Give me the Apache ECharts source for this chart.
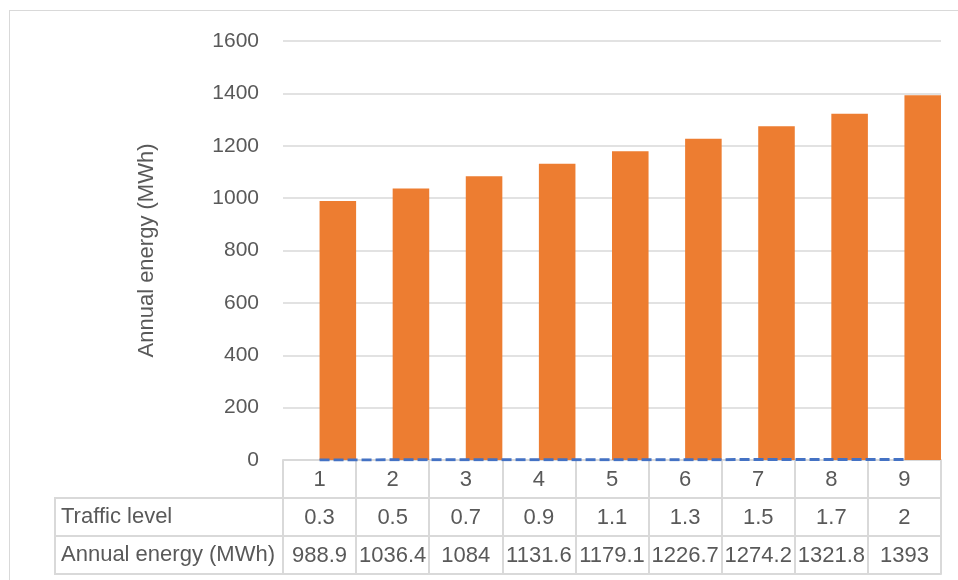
<!DOCTYPE html>
<html>
<head>
<meta charset="utf-8">
<script src="https://cdn.jsdelivr.net/npm/echarts@6/dist/echarts.min.js"></script>
<style>
html,body{margin:0;padding:0;background:#fff;overflow:hidden;}
#frame{position:absolute;left:9px;top:10px;width:1200px;height:900px;border:1px solid #D9D9D9;box-sizing:border-box;}
#chart{position:absolute;left:0;top:0;width:958px;height:580px;}
</style>
</head>
<body>
<div id="frame"></div>
<div id="chart"></div>
<script>
const categories = ['1','2','3','4','5','6','7','8','9'];
const trafficLevel = [0.3, 0.5, 0.7, 0.9, 1.1, 1.3, 1.5, 1.7, 2];
const annualEnergy = [988.9, 1036.4, 1084, 1131.6, 1179.1, 1226.7, 1274.2, 1321.8, 1393];
const yTicks = {min: 0, max: 1600, interval: 200};

const GRAY = '#D9D9D9';
const TXT = '#595959';
const FONT = 'Liberation Sans';
const ROW = 38;

function tableAxis(idx, data, name) {
  return {
    type: 'category',
    gridIndex: 0,
    position: 'bottom',
    offset: idx * ROW,
    data: data,
    boundaryGap: true,
    axisLine: {show: true, lineStyle: {color: GRAY, width: 2}},
    axisTick: {show: data !== null, length: ROW, interval: 0, lineStyle: {color: GRAY, width: 2}},
    axisLabel: {show: data !== null, interval: 0, margin: 9, fontFamily: FONT, fontSize: 22, color: TXT},
    splitLine: {show: false},
    name: name ? '{a|' + name + '}' : '',
    nameLocation: 'start',
    nameGap: 228,
    nameMoveOverlap: false,
    nameTextStyle: name ? {
      align: 'left', verticalAlign: 'top',
      fontFamily: FONT, fontSize: 22, color: TXT,
      padding: [8, 0, 8, 6],
      borderColor: GRAY, borderWidth: 2,
      rich: {a: {width: 222, height: 22, lineHeight: 22, align: 'left', fontFamily: FONT, fontSize: 22, color: TXT}}
    } : {}
  };
}

const chart = echarts.init(document.getElementById('chart'), null, {renderer: 'canvas'});
chart.setOption({
  animation: false,
  grid: {left: 283, right: 17, top: 41, bottom: 120, containLabel: false},
  xAxis: [
    tableAxis(0, categories, ''),
    tableAxis(1, trafficLevel.map(String), 'Traffic level'),
    tableAxis(2, annualEnergy.map(String), 'Annual energy (MWh)'),
    Object.assign(tableAxis(3, categories, ''), {axisTick: {show: false}, axisLabel: {show: false}})
  ],
  yAxis: {
    type: 'value',
    min: yTicks.min, max: yTicks.max, interval: yTicks.interval,
    axisLine: {show: false}, axisTick: {show: false},
    axisLabel: {margin: 24, fontFamily: FONT, fontSize: 21, color: TXT, formatter: v => String(v)},
    splitLine: {lineStyle: {color: GRAY, width: 1.5}},
    name: 'Annual energy (MWh)',
    nameLocation: 'middle',
    nameGap: 125,
    nameTextStyle: {fontFamily: FONT, fontSize: 22, color: TXT}
  },
  series: [
    {type: 'bar', name: 'slot', data: categories.map(() => null), barGap: '0%', barCategoryGap: '0%', silent: true},
    {type: 'bar', name: 'Annual energy (MWh)', data: annualEnergy, barGap: '0%', barCategoryGap: '0%',
     itemStyle: {color: '#ED7D31'}},
    {type: 'line', name: 'Traffic level', data: trafficLevel, showSymbol: false, symbol: 'none', z: 5,
     lineStyle: {color: '#4472C4', width: 3, type: [10, 4]}}
  ]
});
</script>
</body>
</html>
